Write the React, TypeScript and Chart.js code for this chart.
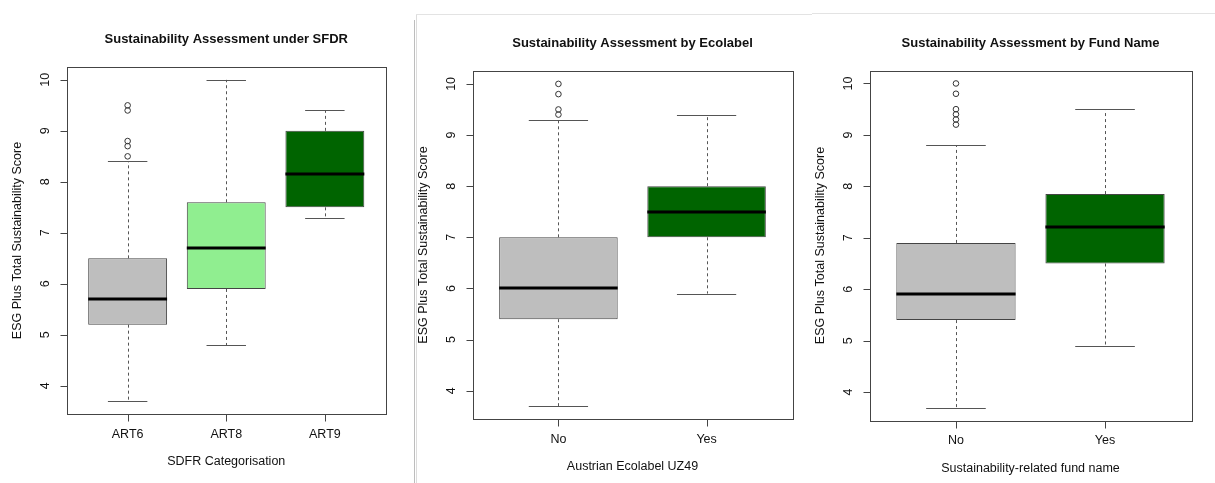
import React, { useEffect, useRef } from "react";
import { Chart, registerables } from "chart.js";

Chart.register(...registerables);

// ---------- Data ----------
const sfdrCategories = ["ART6", "ART8", "ART9"];
const sfdrLower = [3.7, 4.8, 7.3];
const sfdrQ1 = [5.2, 5.9, 7.5];
const sfdrMedian = [5.7, 6.7, 8.15];
const sfdrQ3 = [6.5, 7.6, 9.0];
const sfdrUpper = [8.4, 10.0, 9.4];
const sfdrOutliers = [[8.5, 8.7, 8.8, 9.4, 9.5], [], []];
const sfdrColors = ["#BEBEBE", "#90EE90", "#006400"];

const ecoCategories = ["No", "Yes"];
const ecoLower = [3.7, 5.9];
const ecoQ1 = [5.4, 7.0];
const ecoMedian = [6.0, 7.5];
const ecoQ3 = [7.0, 8.0];
const ecoUpper = [9.3, 9.4];
const ecoOutliers = [[9.4, 9.5, 9.8, 10.0], []];
const ecoColors = ["#BEBEBE", "#006400"];

const nameCategories = ["No", "Yes"];
const nameLower = [3.7, 4.9];
const nameQ1 = [5.4, 6.5];
const nameMedian = [5.9, 7.2];
const nameQ3 = [6.9, 7.85];
const nameUpper = [8.8, 9.5];
const nameOutliers = [[9.2, 9.3, 9.4, 9.5, 9.8, 10.0], []];
const nameColors = ["#BEBEBE", "#006400"];

const yTickValues = [4, 5, 6, 7, 8, 9, 10];
const yAxisTitle = "ESG Plus Total Sustainability Score";

// ---------- Layout ----------
const FONT = '"Liberation Sans", Arial, Helvetica, sans-serif';
const W = 1215;
const H = 483;

type Panel = {
  title: string;
  xTitle: string;
  categories: string[];
  lower: number[];
  q1: number[];
  median: number[];
  q3: number[];
  upper: number[];
  outliers: number[][];
  colors: string[];
  canvasLeft: number;
  canvasWidth: number;
  area: { left: number; right: number; top: number; bottom: number };
};

const panels: Panel[] = [
  {
    title: "Sustainability Assessment under SFDR",
    xTitle: "SDFR Categorisation",
    categories: sfdrCategories,
    lower: sfdrLower,
    q1: sfdrQ1,
    median: sfdrMedian,
    q3: sfdrQ3,
    upper: sfdrUpper,
    outliers: sfdrOutliers,
    colors: sfdrColors,
    canvasLeft: 0,
    canvasWidth: 410,
    area: { left: 66.5, right: 386, top: 67, bottom: 414 },
  },
  {
    title: "Sustainability Assessment by Ecolabel",
    xTitle: "Austrian Ecolabel UZ49",
    categories: ecoCategories,
    lower: ecoLower,
    q1: ecoQ1,
    median: ecoMedian,
    q3: ecoQ3,
    upper: ecoUpper,
    outliers: ecoOutliers,
    colors: ecoColors,
    canvasLeft: 410,
    canvasWidth: 400,
    area: { left: 472.5, right: 792.5, top: 71, bottom: 419 },
  },
  {
    title: "Sustainability Assessment by Fund Name",
    xTitle: "Sustainability-related fund name",
    categories: nameCategories,
    lower: nameLower,
    q1: nameQ1,
    median: nameMedian,
    q3: nameQ3,
    upper: nameUpper,
    outliers: nameOutliers,
    colors: nameColors,
    canvasLeft: 810,
    canvasWidth: 405,
    area: { left: 869.5, right: 1191.5, top: 70.5, bottom: 420.5 },
  },
];

function drawText(
  ctx: CanvasRenderingContext2D,
  s: string,
  x: number,
  y: number,
  font: string,
  rotate = false
) {
  ctx.save();
  ctx.translate(x, y);
  if (rotate) ctx.rotate(-Math.PI / 2);
  ctx.font = font;
  ctx.fillStyle = "#111";
  ctx.textAlign = "center";
  ctx.textBaseline = "middle";
  ctx.fillText(s, 0, 0);
  ctx.restore();
}

function makePlugin(p: Panel) {
  return {
    id: "rBoxplot",
    afterDatasetsDraw(chart: any) {
      const ctx: CanvasRenderingContext2D = chart.ctx;
      const xs = chart.scales.x;
      const ys = chart.scales.y;
      ctx.save();
      p.categories.forEach((_, i) => {
        const xc = xs.getPixelForValue(i + 1);
        const xCapL = xs.getPixelForValue(i + 1 - 0.2);
        const xCapR = xs.getPixelForValue(i + 1 + 0.2);
        const xBoxL = xs.getPixelForValue(i + 1 - 0.4);
        const xBoxR = xs.getPixelForValue(i + 1 + 0.4);
        const yLo = ys.getPixelForValue(p.lower[i]);
        const yQ1 = ys.getPixelForValue(p.q1[i]);
        const yMed = ys.getPixelForValue(p.median[i]);
        const yQ3 = ys.getPixelForValue(p.q3[i]);
        const yHi = ys.getPixelForValue(p.upper[i]);
        const xl = Math.round(xc) + 0.5;
        // whiskers (dashed)
        ctx.strokeStyle = "#555";
        ctx.lineWidth = 1;
        ctx.setLineDash([3, 3]);
        ctx.beginPath();
        ctx.moveTo(xl, yQ3);
        ctx.lineTo(xl, yHi);
        ctx.moveTo(xl, yQ1);
        ctx.lineTo(xl, yLo);
        ctx.stroke();
        ctx.setLineDash([]);
        // caps
        ctx.strokeStyle = "#555";
        ctx.beginPath();
        ctx.moveTo(xCapL, Math.round(yHi) + 0.5);
        ctx.lineTo(xCapR, Math.round(yHi) + 0.5);
        ctx.moveTo(xCapL, Math.round(yLo) + 0.5);
        ctx.lineTo(xCapR, Math.round(yLo) + 0.5);
        ctx.stroke();
        // median
        ctx.strokeStyle = "#000";
        ctx.lineWidth = 3;
        ctx.beginPath();
        ctx.moveTo(xBoxL, Math.round(yMed));
        ctx.lineTo(xBoxR, Math.round(yMed));
        ctx.stroke();
      });
      ctx.restore();
    },
    afterDraw(chart: any) {
      const ctx: CanvasRenderingContext2D = chart.ctx;
      const xs = chart.scales.x;
      const ys = chart.scales.y;
      const a = chart.chartArea;
      ctx.save();
      // frame
      ctx.strokeStyle = "#444";
      ctx.lineWidth = 1;
      ctx.strokeRect(
        Math.round(a.left) + 0.5,
        Math.round(a.top) + 0.5,
        Math.round(a.right) - Math.round(a.left),
        Math.round(a.bottom) - Math.round(a.top)
      );
      // y ticks
      const fTick = `12.5px ${FONT}`;
      const xl = Math.round(a.left) + 0.5;
      ctx.beginPath();
      yTickValues.forEach((v) => {
        const y = Math.round(ys.getPixelForValue(v)) + 0.5;
        ctx.moveTo(xl, y);
        ctx.lineTo(xl - 7, y);
      });
      ctx.stroke();
      yTickValues.forEach((v) => {
        drawText(ctx, String(v), a.left - 21, ys.getPixelForValue(v), fTick, true);
      });
      // x ticks
      const yb = Math.round(a.bottom) + 0.5;
      ctx.beginPath();
      p.categories.forEach((_, i) => {
        const x = Math.round(xs.getPixelForValue(i + 1)) + 0.5;
        ctx.moveTo(x, yb);
        ctx.lineTo(x, yb + 7);
      });
      ctx.stroke();
      p.categories.forEach((c, i) => {
        drawText(ctx, c, xs.getPixelForValue(i + 1), a.bottom + 20.5, fTick);
      });
      // titles
      const cx = (a.left + a.right) / 2;
      const cy = (a.top + a.bottom) / 2;
      drawText(ctx, p.xTitle, cx, a.bottom + 48, `12.5px ${FONT}`);
      drawText(ctx, yAxisTitle, a.left - 48.5, cy, `12.5px ${FONT}`, true);
      drawText(ctx, p.title, cx, a.top - 27.5, `bold 13px ${FONT}`);
      ctx.restore();
    },
  };
}

function yRange(p: Panel) {
  const all = [...p.lower, ...p.upper, ...p.outliers.flat()];
  const lo = Math.min(...all);
  const hi = Math.max(...all);
  const ext = (hi - lo) * 0.04;
  return { min: lo - ext, max: hi + ext };
}

function BoxPanel({ p }: { p: Panel }) {
  const ref = useRef<HTMLCanvasElement | null>(null);
  useEffect(() => {
    if (!ref.current) return;
    const n = p.categories.length;
    const xExt = n * 0.04;
    const yr = yRange(p);
    const outlierPoints: { x: number; y: number }[] = [];
    p.outliers.forEach((arr, i) => arr.forEach((v) => outlierPoints.push({ x: i + 1, y: v })));
    const chart = new Chart(ref.current, {
      type: "bar",
      data: {
        datasets: [
          {
            type: "bar",
            data: p.categories.map((_, i) => ({ x: i + 1, y: [p.q1[i], p.q3[i]] })) as any,
            backgroundColor: p.colors,
            borderColor: "#444",
            borderWidth: 1,
            borderSkipped: false,
            barPercentage: 0.8,
            categoryPercentage: 1,
          } as any,
          {
            type: "scatter",
            data: outlierPoints,
            pointStyle: "circle",
            pointRadius: 2.8,
            pointBorderWidth: 1,
            pointBorderColor: "#333",
            pointBackgroundColor: "rgba(0,0,0,0)",
            showLine: false,
          } as any,
        ],
      },
      options: {
        animation: false,
        responsive: false,
        events: [],
        layout: {
          padding: {
            left: p.area.left - p.canvasLeft,
            right: p.canvasLeft + p.canvasWidth - p.area.right,
            top: p.area.top,
            bottom: H - p.area.bottom,
          },
        },
        plugins: {
          legend: { display: false },
          tooltip: { enabled: false },
          title: { display: false },
        },
        scales: {
          x: {
            type: "linear",
            display: false,
            offset: false,
            min: 0.5 - xExt,
            max: n + 0.5 + xExt,
            afterBuildTicks: (s: any) => {
              s.ticks = p.categories.map((_, i) => ({ value: i + 1 }));
            },
          },
          y: {
            type: "linear",
            display: false,
            min: yr.min,
            max: yr.max,
            beginAtZero: false,
          },
        },
      } as any,
      plugins: [makePlugin(p)],
    });
    return () => chart.destroy();
  }, [p]);
  return (
    <canvas
      ref={ref}
      width={p.canvasWidth}
      height={H}
      style={{
        position: "absolute",
        left: p.canvasLeft,
        top: 0,
        width: p.canvasWidth,
        height: H,
      }}
    />
  );
}

export default function App() {
  return (
    <div
      style={{
        position: "fixed",
        left: 0,
        top: 0,
        width: W,
        height: H,
        background: "#fff",
        overflow: "hidden",
      }}
    >
      {/* screenshot separators */}
      <div style={{ position: "absolute", left: 414, top: 20, width: 1, height: H - 20, background: "#bdbdbd" }} />
      <div style={{ position: "absolute", left: 416, top: 14, width: 1, height: H - 14, background: "#dcdcdc" }} />
      <div style={{ position: "absolute", left: 416, top: 14, width: 396, height: 1, background: "#e3e3e3" }} />
      <div style={{ position: "absolute", left: 812, top: 13, width: W - 812, height: 1, background: "#e3e3e3" }} />
      {panels.map((p, i) => (
        <BoxPanel key={i} p={p} />
      ))}
    </div>
  );
}
